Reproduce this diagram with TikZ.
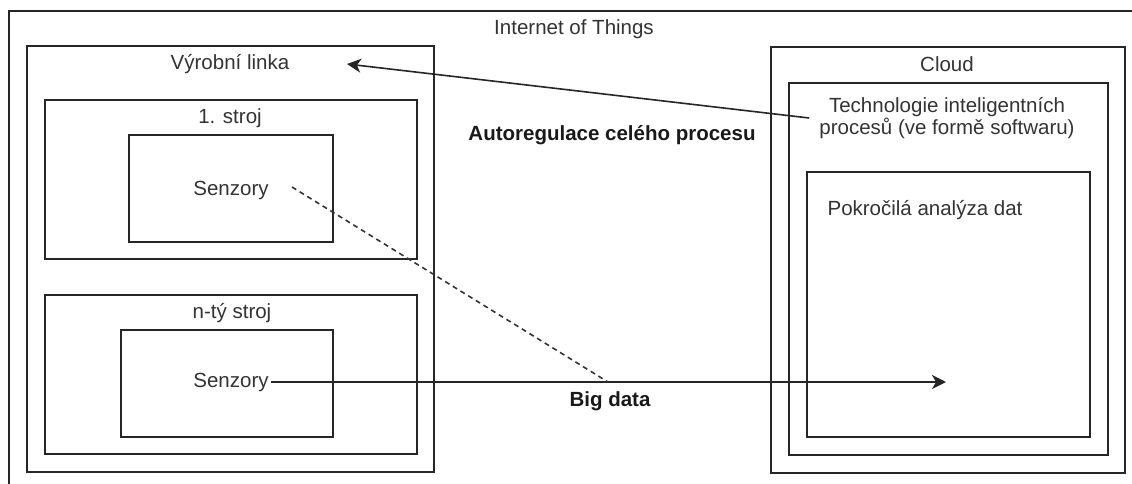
\documentclass[tikz,border=0pt]{standalone}
\usepackage{fontspec}
\setmainfont{Liberation Sans}
\usetikzlibrary{arrows.meta}

\begin{document}
\begin{tikzpicture}[x=1pt,y=-1pt,
  box/.style={draw=black!85,line width=1.6pt,anchor=north west,inner sep=0pt},
  txt/.style={font=\fontsize{20.5}{22}\selectfont,text=black!80,inner sep=2pt,align=center},
  btxt/.style={txt,font=\fontsize{20.5}{22}\selectfont\bfseries,text=black!90},
  arr/.style={-{Stealth[length=14pt,width=14pt,inset=4pt]},line width=1.6pt,black!85},
  dsh/.style={line width=1.6pt,black!80,dash pattern=on 5pt off 4pt}]
  \useasboundingbox (0,0) rectangle (1132,483);
  % frames
  \node[box,minimum width=1140pt,minimum height=490pt] (iot) at (8,10) {};
  \node[box,minimum width=407pt,minimum height=426pt] (linka) at (26,45) {};
  \node[box,minimum width=372pt,minimum height=159pt] (stroj1) at (44,99) {};
  \node[box,minimum width=204pt,minimum height=107pt] (sen1box) at (128,134) {};
  \node[box,minimum width=372pt,minimum height=159pt] (strojN) at (44,294) {};
  \node[box,minimum width=212pt,minimum height=107pt] (sen2box) at (120,329) {};
  \node[box,minimum width=354pt,minimum height=426pt] (cloud) at (770,46) {};
  \node[box,minimum width=319pt,minimum height=372pt] (tech) at (788,82) {};
  \node[box,minimum width=283pt,minimum height=265pt] (analyza) at (806,171) {};
  % labels
  \node[txt] (iotTxt) at (574,29) {Internet of Things};
  \node[txt] (linkaTxt) at (230,64) {Výrobní linka};
  \node[txt] (stroj1Txt) at (230,118) {1. stroj};
  \node[txt] (sen1) at (231,190) {Senzory};
  \node[txt] (strojNTxt) at (232,313) {n-tý stroj};
  \node[txt] (sen2) at (231,382) {Senzory};
  \node[txt] (cloudTxt) at (947,64) {Cloud};
  \node[txt,inner xsep=10pt] (techTxt) at (947,118) {Technologie inteligentních\\procesů (ve formě softwaru)};
  \node[txt] (analyzaTxt) at (925,210) {Pokročilá analýza dat};
  \node[btxt] (autoTxt) at (612,135) {Autoregulace celého procesu};
  \node[btxt] (bigTxt) at (610,401) {Big data};
  % connectors
  \coordinate (autoTip) at (347,64);
  \coordinate (dashStart) at (292,187);
  \coordinate (bigMid) at (608,382);
  \coordinate (bigEnd) at (946,382);
  \draw[arr] (techTxt.west) -- (autoTip);
  \draw[arr] (sen2.east) -- (bigEnd);
  \draw[dsh] (dashStart) -- (bigMid);
\end{tikzpicture}
\end{document}
